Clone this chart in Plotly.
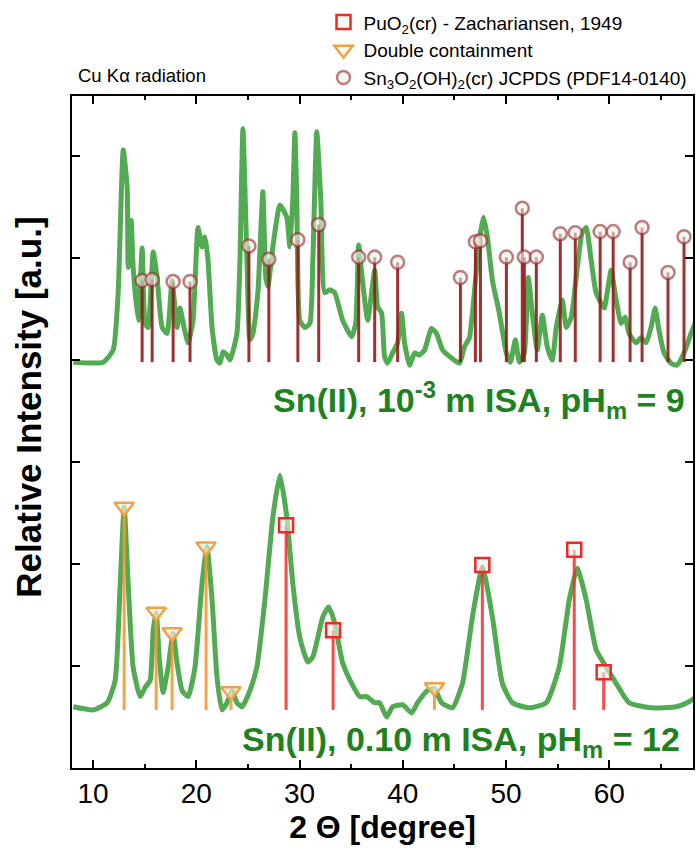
import plotly.graph_objects as go

# ---------------- data ----------------
# Upper pattern: Sn(II), 1e-3 m ISA, pHm = 9
top_x = [8.10, 11.00, 11.96, 12.44, 12.93, 13.31, 13.41, 13.70, 13.89, 14.38, 14.76, 15.05, 15.34,
         15.83, 16.21, 16.70, 17.18, 17.66, 18.14, 18.43, 18.82, 19.21, 19.69, 20.17, 20.56, 20.85,
         21.14, 21.53, 22.01, 22.30, 22.59, 22.98, 23.27, 23.94, 24.23, 24.52, 24.91, 25.20, 25.49,
         25.97, 26.45, 26.74, 26.94, 27.42, 28.10, 28.77, 29.06, 29.35, 29.55, 29.74, 30.03, 30.51,
         31.00, 31.29, 31.67, 32.06, 32.44, 32.93, 33.41, 34.18, 35.05, 35.44, 35.73, 36.02, 36.60,
         37.28, 37.57, 37.95, 38.24, 38.53, 39.01, 39.50, 39.88, 40.17, 40.66, 41.14, 41.62, 42.11,
         42.78, 43.27, 43.85, 44.71, 45.49, 45.97, 46.45, 46.74, 47.42, 47.81, 48.19, 48.68, 49.35,
         50.03, 50.42, 50.90, 51.29, 51.77, 52.15, 52.54, 53.02, 53.51, 53.99, 54.47, 54.86, 55.44,
         55.83, 56.31, 56.79, 57.37, 57.76, 58.24, 58.72, 59.50, 59.79, 60.17, 60.66, 61.14, 61.53,
         61.91, 62.59, 63.07, 63.56, 64.04, 64.43, 64.81, 65.30, 65.97, 66.55, 67.23, 67.90, 68.29]
top_y = [3.98, 3.98, 4.10, 4.66, 6.06, 5.70, 4.91, 5.37, 4.91, 4.39, 5.10, 4.36, 4.32,
         5.06, 4.81, 4.32, 4.26, 4.78, 4.32, 4.51, 4.32, 4.17, 4.39, 5.30, 5.11, 5.21,
         4.98, 4.32, 4.00, 3.97, 4.08, 4.05, 4.00, 4.26, 4.98, 6.27, 4.98, 4.20, 4.26,
         4.66, 5.65, 4.81, 4.72, 5.11, 5.52, 5.40, 5.11, 5.57, 6.23, 5.57, 4.39, 4.32,
         4.36, 4.98, 6.24, 5.57, 4.66, 4.69, 4.66, 4.39, 4.23, 4.36, 5.13, 4.85, 4.39,
         4.88, 4.52, 4.46, 4.03, 3.97, 4.07, 4.17, 4.46, 4.17, 3.95, 4.07, 4.05, 4.10,
         4.31, 4.26, 4.10, 4.02, 3.97, 4.13, 4.22, 4.46, 5.18, 5.40, 5.21, 4.78, 4.46,
         4.07, 3.98, 4.20, 3.98, 4.07, 4.81, 4.46, 4.10, 4.44, 4.13, 4.00, 4.32, 4.59,
         4.32, 4.42, 4.81, 5.25, 5.30, 4.98, 4.66, 4.51, 4.66, 4.88, 4.59, 4.36, 4.42,
         4.26, 4.17, 4.22, 4.17, 4.32, 4.51, 4.29, 4.07, 3.97, 3.95, 4.07, 4.26, 4.36]

# Lower pattern: Sn(II), 0.10 m ISA, pHm = 12
bot_x = [8.10, 10.03, 11.38, 12.15, 12.64, 13.02, 13.41, 13.89, 14.57, 15.05, 15.54, 15.83, 16.12,
         16.41, 16.79, 17.28, 17.76, 18.14, 18.63, 19.21, 19.88, 20.56, 21.04, 21.53, 22.01, 22.49,
         22.98, 23.46, 23.94, 24.43, 25.20, 25.87, 26.65, 27.42, 28.10, 28.77, 29.35, 30.03, 30.80,
         31.29, 32.25, 32.83, 33.41, 34.18, 35.05, 35.83, 36.50, 37.28, 37.76, 38.43, 39.01, 39.98,
         40.85, 41.43, 42.40, 43.07, 43.75, 44.81, 45.78, 46.74, 47.71, 48.68, 49.64, 50.61, 52.25,
         53.89, 55.15, 56.12, 56.89, 57.76, 58.72, 59.69, 60.66, 61.91, 64.14, 66.46, 67.71, 68.29]
bot_y = [0.60, 0.57, 0.64, 0.86, 1.81, 2.56, 1.81, 0.99, 0.70, 0.79, 0.86, 1.35, 1.52,
         1.09, 0.74, 0.99, 1.32, 1.03, 0.76, 0.70, 0.99, 1.81, 2.17, 1.65, 0.89, 0.57,
         0.64, 0.76, 0.64, 0.60, 0.76, 0.99, 1.65, 2.46, 2.87, 2.46, 1.81, 1.28, 1.04,
         1.09, 1.48, 1.58, 1.42, 1.03, 0.83, 0.70, 0.70, 0.64, 0.64, 0.50, 0.60, 0.62,
         0.54, 0.64, 0.76, 0.78, 0.64, 0.59, 0.83, 1.48, 1.97, 1.48, 0.83, 0.64, 0.59,
         0.64, 0.99, 1.65, 1.96, 1.65, 1.16, 0.99, 0.83, 0.64, 0.59, 0.60, 0.65, 0.69]

# Reference lines: Sn3O2(OH)2(cr) JCPDS (PDF14-0140)
sn_pos = [14.76, 15.73, 17.76, 19.40, 25.10, 27.03, 29.84, 31.86, 35.73, 37.28, 39.50, 45.58, 47.03,
          47.52, 50.03, 51.57, 51.77, 52.93, 55.25, 56.70, 59.11, 60.37, 62.01, 63.17, 65.68, 67.23]
sn_top = [4.78, 4.79, 4.77, 4.77, 5.12, 4.99, 5.18, 5.33, 5.01, 5.01, 4.96, 4.81, 5.16,
          5.17, 5.01, 5.49, 5.01, 5.01, 5.24, 5.25, 5.26, 5.26, 4.96, 5.30, 4.86, 5.21]
sn_base = 3.98

# Reference lines: Double containment
dc_pos = [13.02, 16.12, 17.66, 20.95, 23.36, 43.07]
dc_top = [2.56, 1.53, 1.33, 2.17, 0.75, 0.79]

# Reference lines: PuO2(cr) - Zachariansen, 1949
pu_pos = [28.70, 33.25, 47.70, 56.60, 59.45]
pu_top = [2.38, 1.35, 1.99, 2.14, 0.94]
bot_base = 0.57

x_ticks = [10, 20, 30, 40, 50, 60]

# ---------------- figure ----------------
FONT = "Liberation Sans, Arial, sans-serif"
GREEN = "rgb(82,170,82)"
TXTGREEN = "rgb(30,130,30)"


def sticks(pos, top, base):
    xs, ys = [], []
    for p, t in zip(pos, top):
        xs += [p, p, None]
        ys += [base, t, None]
    return xs, ys


fig = go.Figure()

fig.add_trace(go.Scatter(x=top_x, y=top_y, mode="lines", showlegend=False,
                         line=dict(color=GREEN, width=5, shape="spline", smoothing=0.5)))
fig.add_trace(go.Scatter(x=bot_x, y=bot_y, mode="lines", showlegend=False,
                         line=dict(color=GREEN, width=5, shape="spline", smoothing=0.5)))

sx, sy = sticks(sn_pos, sn_top, sn_base)
fig.add_trace(go.Scatter(x=sx, y=sy, mode="lines", showlegend=False,
                         line=dict(color="rgba(150,25,25,0.9)", width=3)))
dx, dy = sticks(dc_pos, dc_top, bot_base)
fig.add_trace(go.Scatter(x=dx, y=dy, mode="lines", showlegend=False,
                         line=dict(color="rgba(250,150,50,0.9)", width=3)))
px_, py_ = sticks(pu_pos, pu_top, bot_base)
fig.add_trace(go.Scatter(x=px_, y=py_, mode="lines", showlegend=False,
                         line=dict(color="rgba(250,40,40,0.85)", width=3)))

fig.add_trace(go.Scatter(x=pu_pos, y=pu_top, mode="markers", name="PuO<sub>2</sub>(cr) - Zachariansen, 1949",
                         legendgroup="a", legendrank=1,
                         marker=dict(symbol="square", size=14, color="rgba(235,245,235,0.6)",
                                     line=dict(color="rgb(240,40,40)", width=2.5))))
fig.add_trace(go.Scatter(x=dc_pos, y=dc_top, mode="markers", name="Double containment",
                         legendgroup="b", legendrank=2,
                         marker=dict(symbol="triangle-down", size=17, color="rgba(235,245,235,0.6)",
                                     line=dict(color="rgb(245,160,70)", width=2.5))))
fig.add_trace(go.Scatter(x=sn_pos, y=sn_top, mode="markers",
                         name="Sn<sub>3</sub>O<sub>2</sub>(OH)<sub>2</sub>(cr) JCPDS (PDF14-0140)",
                         legendgroup="c", legendrank=3,
                         marker=dict(symbol="circle", size=13, color="rgba(240,240,235,0.6)",
                                     line=dict(color="rgba(150,40,40,0.6)", width=2.5))))

axis_common = dict(showline=True, linecolor="black", linewidth=1.5, mirror="allticks",
                   ticks="inside", tickcolor="black", tickwidth=1.5, ticklen=8,
                   showgrid=False, zeroline=False)

fig.update_xaxes(range=[7.97, 68.1], tickvals=x_ticks, ticktext=[str(v) for v in x_ticks],
                 tickfont=dict(family=FONT, size=28, color="black"),
                 minor=dict(dtick=5, tick0=5, ticks="inside", ticklen=4, tickwidth=1.5, tickcolor="black"),
                 title=dict(text="<b>2 Θ [degree]</b>", font=dict(family=FONT, size=32, color="black"),
                            standoff=6),
                 **axis_common)
fig.update_yaxes(range=[0, 6.59], tickvals=[1, 2, 3, 4, 5, 6], showticklabels=False,
                 **axis_common)

fig.add_annotation(text="<b>Relative Intensity [a.u.]</b>", textangle=-90,
                   xref="paper", yref="paper", x=-0.07, y=0.537, showarrow=False,
                   xanchor="center", yanchor="middle",
                   font=dict(family=FONT, size=35, color="black"))
fig.add_annotation(text="Cu Kα radiation", xref="paper", yref="paper",
                   x=0.007, y=1.031, xanchor="left", yanchor="middle", showarrow=False,
                   font=dict(family=FONT, size=18.5, color="black"))
fig.add_annotation(text="<b>Sn(II), 10<sup>-3</sup> m ISA, pH<sub>m</sub> = 9</b>",
                   xref="paper", yref="paper", x=0.99, y=(768 - 400) / 672,
                   xanchor="right", yanchor="middle", showarrow=False,
                   font=dict(family=FONT, size=34, color=TXTGREEN))
fig.add_annotation(text="<b>Sn(II), 0.10 m ISA, pH<sub>m</sub> = 12</b>",
                   xref="paper", yref="paper", x=0.983, y=(768 - 741) / 672,
                   xanchor="right", yanchor="middle", showarrow=False,
                   font=dict(family=FONT, size=34, color=TXTGREEN))

fig.update_layout(
    width=696, height=854,
    margin=dict(l=72, r=1, t=96, b=86),
    paper_bgcolor="white", plot_bgcolor="white",
    font=dict(family=FONT, color="black"),
    legend=dict(x=0.405, y=1.138, xanchor="left", yanchor="top",
                bgcolor="rgba(0,0,0,0)", borderwidth=0,
                font=dict(family=FONT, size=19, color="black"),
                traceorder="normal", tracegroupgap=2, itemwidth=30),
)

fig.write_html("out.html")
